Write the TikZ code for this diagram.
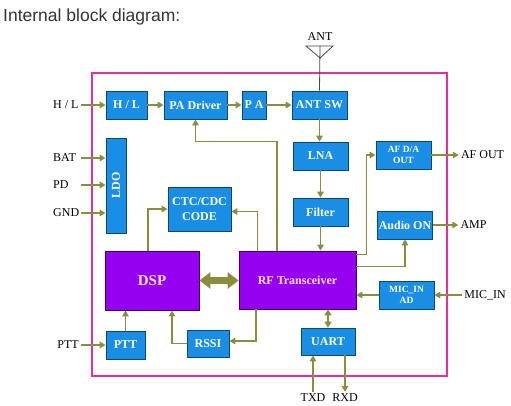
\documentclass[tikz,border=0pt]{standalone}
\usepackage{fontspec}
\setmainfont{Liberation Serif}
\newfontfamily\titlefont{Liberation Sans}
\usetikzlibrary{arrows.meta,positioning,calc}
\definecolor{blockblue}{RGB}{26,142,228}
\definecolor{dspviolet}{RGB}{150,0,240}
\definecolor{framepink}{RGB}{226,48,160}
\definecolor{wireolive}{RGB}{140,140,62}
\definecolor{corelabel}{RGB}{255,228,255}
\definecolor{antgray}{RGB}{70,70,70}

\begin{document}
\begin{tikzpicture}[x=1pt,y=-1pt,
    blk/.style={rectangle, fill=blockblue, draw=blockblue!50!black, line width=0.8pt, inner sep=1pt,
        text=white, font=\fontsize{12}{15}\selectfont\bfseries, minimum height=28pt},
    small/.style={blk, font=\fontsize{9.5}{11.5}\selectfont\bfseries, align=center},
    core/.style={blk, fill=dspviolet, draw=dspviolet!40!black, text=corelabel},
    pin/.style={font=\fontsize{12}{13}\selectfont, inner sep=2pt},
    wire/.style={draw=wireolive, line width=1.6pt, -{Triangle[length=6pt,width=6.5pt]}},
    bus/.style={wire, {Triangle[length=6pt,width=7pt]}-{Triangle[length=6pt,width=7pt]}},
    fatbus/.style={draw=wireolive, fill=wireolive, line width=7pt,
        {Triangle[length=11pt,width=16pt]}-{Triangle[length=11pt,width=16pt]}}
]
            \useasboundingbox (0,0) rectangle (511,405);

            \node[anchor=base west, inner sep=0pt, text=black!80,
                font=\titlefont\fontsize{17.5}{20}\selectfont] (title) at (3,21.5) {Internal block diagram:};

            % chip outline
            \node[draw=framepink, line width=2pt, minimum width=355pt, minimum height=303pt, inner sep=0pt] (chip) at (269.5,224.5) {};

            % transmit chain
            \node[blk, minimum width=41pt] (hl) at (126.5,105) {H / L};
            \node[blk, minimum width=63pt] (padrv) at (195.5,105) {PA Driver};
            \node[blk, minimum width=24pt] (pa) at (254,105) {P A};
            \node[blk, minimum width=55pt] (antsw) at (319.5,105) {ANT SW};

            % receive chain
            \node[blk, minimum width=55pt] (lna) at (320.5,156) {LNA};
            \node[blk, minimum width=55pt] (filter) at (320.5,212) {Filter};
            \node[small, minimum width=55pt] (afda) at (403.5,155) {AF D/A\\OUT};
            \node[blk, minimum width=54pt] (audio) at (405,225) {Audio ON};
            \node[small, minimum width=55pt] (micad) at (406.5,295) {MIC\_IN\\AD};

            % core
            \node[blk, minimum width=20pt, minimum height=95pt] (ldo) at (116,185.5) {\rotatebox{90}{LDO}};
            \node[blk, minimum width=63pt, minimum height=44pt, align=center] (ctc) at (199.5,209) {CTC/CDC\\CODE};
            \node[core, minimum width=94pt, minimum height=59pt, font=\fontsize{15}{16}\selectfont\bfseries] (dsp) at (152,280.5) {DSP};
            \node[core, minimum width=117pt, minimum height=58pt] (rf) at (297.5,280) {RF Transceiver};
            \node[blk, minimum width=39pt] (ptt) at (125.5,345) {PTT};
            \node[blk, minimum width=42pt, minimum height=27pt] (rssi) at (208,343.5) {RSSI};
            \node[blk, minimum width=54pt, minimum height=27pt] (uart) at (328,341.5) {UART};

            % pins
            \node[pin, anchor=west] (lhl) at (51,105) {H / L};
            \node[pin, anchor=west] (lbat) at (51,158) {BAT};
            \node[pin, anchor=west] (lpd) at (51,185) {PD};
            \node[pin, anchor=west] (lgnd) at (51,213) {GND};
            \node[pin] (lptt) at (68,345) {PTT};
            \node[pin] (lant) at (320,37) {ANT};
            \node[pin] (lafout) at (482.5,155) {AF OUT};
            \node[pin] (lamp) at (473.5,225) {AMP};
            \node[pin] (lmic) at (485,295) {MIC\_IN};
            \node[pin] (ltxd) at (313,398) {TXD};
            \node[pin] (lrxd) at (345,398) {RXD};

            % antenna
            \coordinate (anttop) at (320,46);
            \draw[antgray, line width=0.8pt] (antsw.north) -- (anttop);
            \draw[antgray, line width=0.8pt] (306,46) -- (333,46) -- (320,58) -- cycle;

            % inputs
            \draw[wire] (lhl.east) -- (hl.west);
            \draw[wire] (lbat.east -| lgnd.east) -- (lbat.east -| ldo.west);
            \draw[wire] (lpd.east -| lgnd.east) -- (lpd.east -| ldo.west);
            \draw[wire] (lgnd.east) -- (lgnd.east -| ldo.west);
            \draw[wire] (lptt.east) -- (ptt.west);
            \draw[wire] (lmic.west) -- (micad.east);
            \draw[wire] (ltxd.north) -- (ltxd.north |- uart.south);

            % outputs
            \draw[wire] (afda.east) -- (lafout.west);
            \draw[wire] (audio.east) -- (lamp.west);
            \draw[wire] (lrxd.north |- uart.south) -- (lrxd.north);

            % internal paths
            \draw[wire] (hl.east) -- (padrv.west);
            \draw[wire] (padrv.east) -- (pa.west);
            \draw[wire] (pa.east) -- (antsw.west);
            \draw[wire] (antsw.south) -- (antsw.south |- lna.north);
            \draw[wire] (lna.south) -- (filter.north);
            \draw[wire] (filter.south) -- (filter.south |- rf.north);
            \draw[wire] ([xshift=-20.5pt]rf.north) -- ++(0,-109) -| (padrv.south);
            \draw[wire] ([xshift=-40pt]rf.north) |- ([yshift=-2.5pt]ctc.east);
            \draw[wire] ([xshift=-4pt]dsp.north) |- (ctc.west);
            \draw[wire] ([yshift=-4pt]rf.north east) -- ++(10,0) |- (afda.west);
            \draw[wire] ([yshift=-16pt]rf.north east) -| (audio.south);
            \draw[wire] (micad.west) -- (micad.west -| rf.east);
            \draw[wire] ([xshift=-41.5pt]rf.south) |- ([yshift=2.5pt]rssi.east);
            \draw[wire] (rssi.west) -| ([xshift=20pt]dsp.south);
            \draw[wire] (ptt.north) -- (ptt.north |- dsp.south);
            \draw[bus] (uart.north) -- (uart.north |- rf.south);
            \draw[fatbus] (dsp.east) -- (dsp.east -| rf.west);

\end{tikzpicture}
\end{document}
